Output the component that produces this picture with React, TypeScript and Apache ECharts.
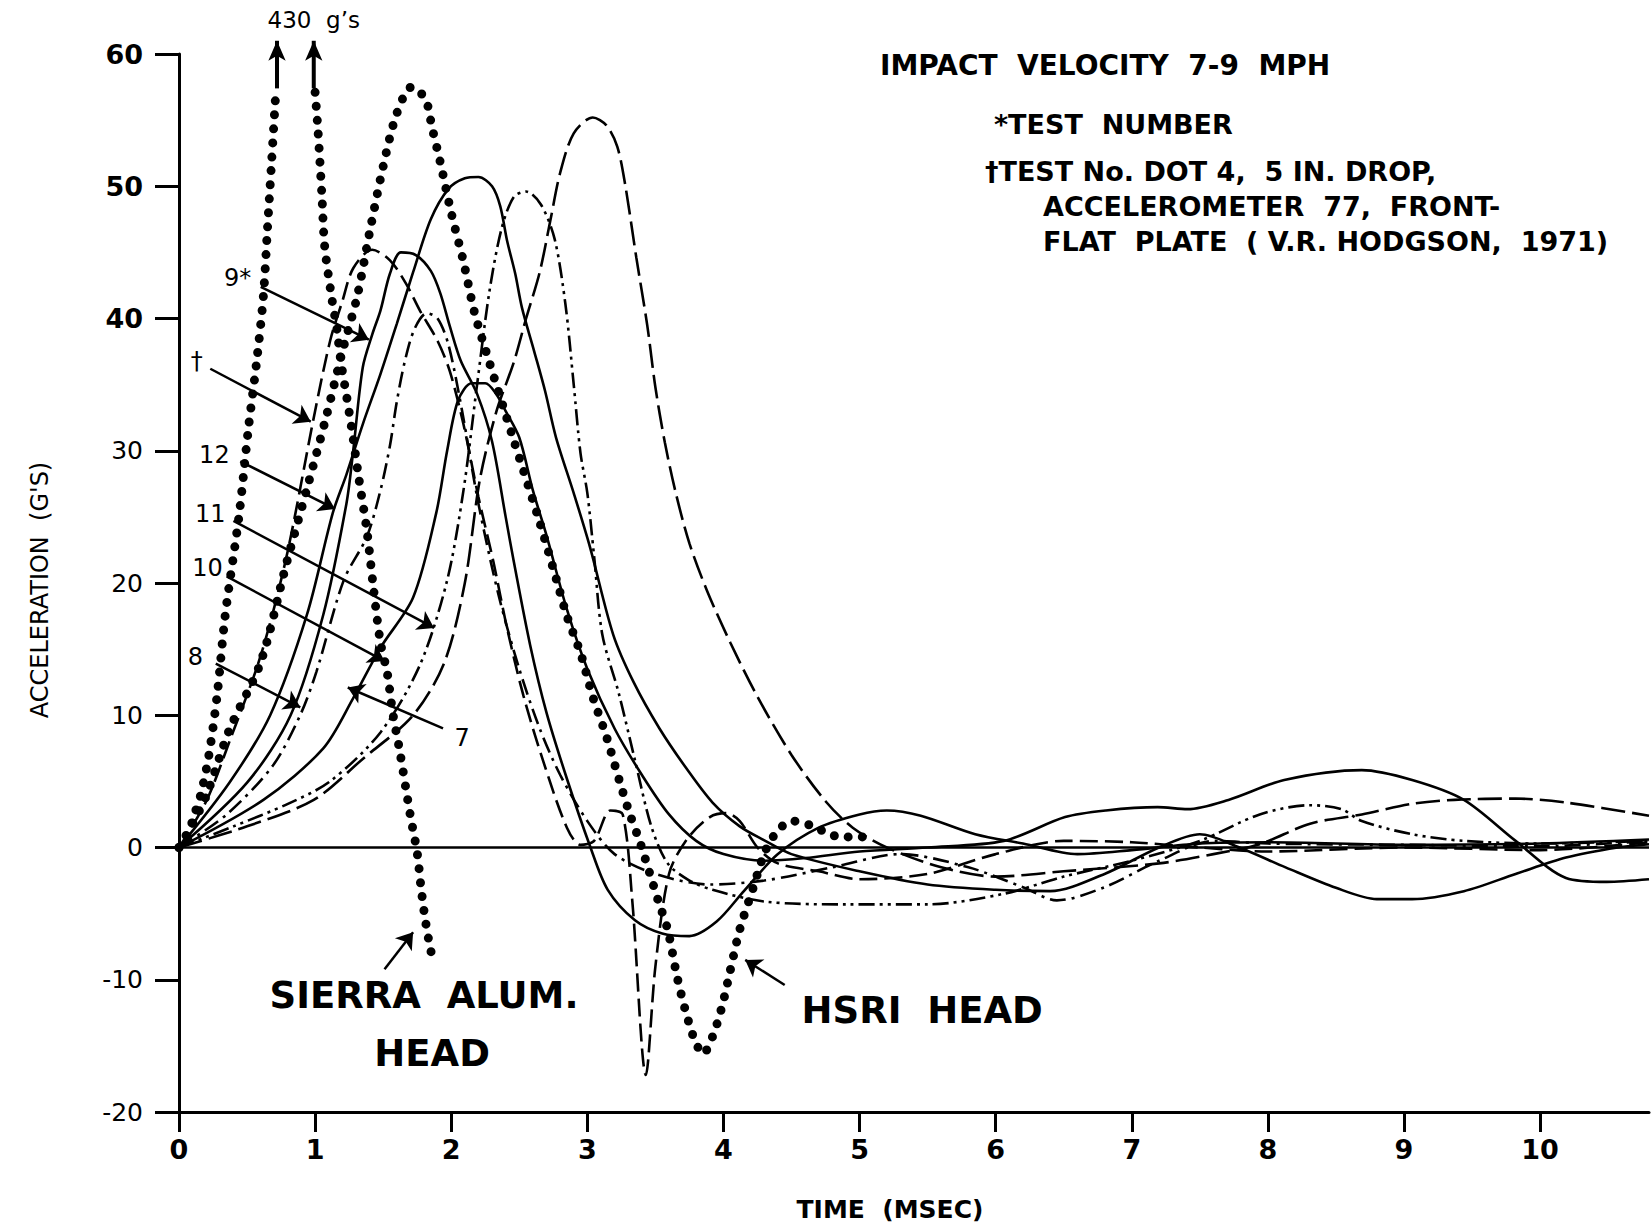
import React, { useEffect, useRef } from "react";
import * as echarts from "echarts";

const FONT = "'DejaVu Sans', 'Liberation Sans', Arial, sans-serif";

// ---------- axis ticks ----------
const xTickValues = [0, 1, 2, 3, 4, 5, 6, 7, 8, 9, 10];
const yBoldLabels = [40, 50, 60];

// ---------- series data: [time (ms), acceleration (g)] ----------
const testDagger = [
  [0, 0], [0.2, 3.5], [0.37, 8], [0.6, 14.5], [0.79, 22], [0.99, 32.5], [1.11, 38.3], [1.2, 41.3],
  [1.28, 43.8], [1.42, 45.2], [1.55, 44.4], [1.67, 42.6], [1.77, 40.6], [1.9, 38.3], [1.99, 36],
  [2.09, 32], [2.2, 26.5], [2.31, 21.6], [2.41, 16.6], [2.53, 11.5], [2.68, 6.4], [2.85, 1.5],
  [2.95, 0.2], [3.05, 0.5], [3.17, 2.8], [3.26, 2.5], [3.33, -4], [3.43, -17.2], [3.5, -9],
  [3.6, -2], [3.73, 0.6], [3.9, 2.3], [4.02, 2.6], [4.12, 2], [4.25, 0], [4.4, -1.2], [4.7, -1.8],
  [5.0, -2.4], [5.5, -2], [6.0, -0.5], [6.5, 0.5], [7.0, 0.4], [7.5, 0], [8.0, -0.3], [9.0, 0],
  [10.0, -0.2], [10.8, 0.4],
];

const test9 = [
  [0, 0], [0.5, 4.9], [0.82, 10], [1.06, 17.6], [1.23, 26], [1.28, 30], [1.35, 36.3], [1.42, 38.8],
  [1.48, 40.6], [1.55, 43.4], [1.63, 45], [1.74, 44.8], [1.85, 43.6], [1.92, 41.9], [1.99, 39.4],
  [2.07, 36.8], [2.19, 34.3], [2.3, 30.7], [2.4, 25], [2.46, 21.6], [2.58, 15.3], [2.7, 10.2],
  [2.85, 5.2], [3.02, 0.1], [3.15, -3.2], [3.35, -5.5], [3.55, -6.5], [3.75, -6.7], [3.95, -5.6],
  [4.15, -3.3], [4.4, -0.5], [4.7, 1.5], [5.0, 2.5], [5.2, 2.8], [5.45, 2.4], [5.85, 1.0],
  [6.2, 0.3], [6.6, -0.5], [7.0, -0.2], [7.5, 0.3], [8.0, 0.4], [9.0, 0.2], [10.0, 0.3], [10.8, 0.6],
];

const test12 = [
  [0, 0], [0.37, 4.9], [0.67, 10], [0.94, 17.6], [1.13, 25.3], [1.23, 28.2], [1.35, 32], [1.48, 35.8],
  [1.6, 39.6], [1.72, 43.5], [1.85, 47.5], [1.98, 49.8], [2.1, 50.6], [2.2, 50.7], [2.3, 50],
  [2.36, 48.5], [2.41, 45.9], [2.47, 43.4], [2.52, 40.8], [2.61, 37.5], [2.69, 34.5], [2.77, 31],
  [2.9, 26.8], [3.02, 22.7], [3.19, 16.1], [3.34, 12.5], [3.53, 9], [3.73, 5.95], [3.92, 3.4],
  [4.12, 1.6], [4.29, 0.6], [4.5, -0.5], [5.0, -1.8], [5.5, -2.8], [6.0, -3.2], [6.4, -3.3],
  [6.8, -2], [7.2, 0], [7.5, 1.0], [7.79, 0], [8.13, -1.5], [8.5, -3.05], [8.8, -3.9], [9.06, -3.9],
  [9.44, -3.3], [9.82, -2], [10.19, -0.76], [10.57, 0], [10.8, 0.25],
];

const test11 = [
  [0, 0], [0.4, 1.6], [0.8, 3.3], [1.11, 5], [1.48, 8.7], [1.77, 13.8], [1.97, 20.2], [2.09, 27],
  [2.19, 35], [2.28, 42], [2.37, 46.8], [2.46, 49.2], [2.55, 49.6], [2.66, 48.6], [2.76, 46],
  [2.84, 41], [2.9, 35], [2.95, 29.8], [3.0, 26.8], [3.05, 22], [3.11, 16.1], [3.23, 11.7],
  [3.35, 6.6], [3.47, 1.6], [3.59, -1.2], [3.75, -2.5], [3.92, -3.2], [4.31, -4.1], [4.9, -4.3],
  [5.5, -4.3], [6.06, -3.5], [6.5, -2.2], [7.0, -1], [7.5, 0.5], [7.94, 2.5], [8.31, 3.2],
  [8.54, 2.9], [8.69, 2], [9.06, 1], [9.44, 0.5], [10.0, 0.3], [10.8, 0.5],
];

const test10 = [
  [0, 0], [0.62, 3.6], [1.06, 7.5], [1.28, 11.3], [1.48, 15.1], [1.72, 18.9], [1.89, 25.3],
  [1.97, 30], [2.05, 33.8], [2.15, 35.1], [2.25, 35.1], [2.33, 34.3], [2.4, 33], [2.5, 31],
  [2.6, 27], [2.7, 23.6], [2.85, 18], [3.0, 13.5], [3.2, 9], [3.4, 5.5], [3.6, 2.5], [3.8, 0.5],
  [4.0, -0.5], [4.3, -1], [4.6, -0.8], [5.0, -0.3], [5.5, 0], [6.06, 0.5], [6.51, 2.3], [6.81, 2.8],
  [7.19, 3.05], [7.41, 2.9], [7.71, 3.6], [8.12, 5.1], [8.69, 5.85], [9.06, 5.1], [9.44, 3.6],
  [9.82, 0.5], [10.19, -2.3], [10.49, -2.6], [10.8, -2.4],
];

const test8 = [
  [0, 0], [0.35, 2.5], [0.69, 6.2], [0.89, 10], [1.01, 13.3], [1.21, 20.2], [1.38, 23.5],
  [1.48, 27], [1.55, 30.4], [1.6, 33.7], [1.66, 36.8], [1.73, 39.2], [1.82, 40.4], [1.9, 40],
  [1.98, 38], [2.08, 33], [2.2, 26], [2.35, 19], [2.5, 13.5], [2.65, 9], [2.8, 5.5], [3.0, 2],
  [3.2, -0.5], [3.5, -2], [3.9, -2.8], [4.3, -2.5], [4.8, -1.5], [5.3, -0.5], [5.8, -1.5],
  [6.2, -3], [6.45, -4], [6.8, -3], [7.2, -1], [7.6, 0.5], [8.0, 0.3], [9.0, 0.2], [10.0, 0.1], [10.8, 0.5],
];

const test7 = [
  [0, 0], [0.5, 1.6], [0.99, 3.6], [1.35, 6.7], [1.72, 10], [1.95, 14], [2.1, 20], [2.21, 27.8],
  [2.33, 32.9], [2.46, 36.7], [2.55, 40], [2.65, 43.5], [2.73, 47.5], [2.8, 51], [2.9, 54],
  [3.04, 55.2], [3.14, 54.6], [3.22, 53], [3.28, 50], [3.36, 44.6], [3.44, 39.5], [3.5, 34.8],
  [3.57, 30.6], [3.65, 26.8], [3.75, 23], [3.88, 19.4], [4.05, 15.5], [4.25, 11.4], [4.5, 7],
  [4.75, 3.5], [4.95, 1.5], [5.2, 0], [5.6, -1.5], [6.0, -2.2], [6.5, -1.8], [7.2, -1.2],
  [7.6, -0.5], [7.94, 0.25], [8.31, 1.8], [8.69, 2.5], [9.06, 3.3], [9.37, 3.6], [9.82, 3.7],
  [10.19, 3.4], [10.8, 2.4],
];

const hsriHead = [
  [0, 0], [0.1, 1.8], [0.2, 3.9], [0.37, 8.9], [0.6, 14], [0.79, 21.5], [0.95, 27.5], [1.08, 32.5],
  [1.2, 37.5], [1.31, 41.7], [1.4, 46.5], [1.5, 51.5], [1.6, 55.5], [1.71, 57.5], [1.81, 56.6],
  [1.86, 54.4], [1.92, 51.8], [2.0, 48], [2.09, 44.3], [2.17, 40.5], [2.28, 36.7], [2.45, 31.1],
  [2.65, 24.6], [2.78, 20], [2.85, 17.5], [2.95, 14.7], [3.04, 11.4], [3.14, 8.4], [3.24, 4.9],
  [3.31, 2.6], [3.39, 0.3], [3.46, -2], [3.52, -4], [3.59, -6.2], [3.66, -9.8], [3.72, -12.3],
  [3.79, -14.6], [3.85, -15.6], [3.92, -14.3], [3.99, -12], [4.05, -9.3], [4.12, -6.2],
  [4.22, -3], [4.31, -0.2], [4.41, 1.4], [4.51, 2], [4.66, 1.6], [4.76, 1.1], [4.86, 0.8], [5.03, 0.8],
];

const sierraRise = [
  [0, 0], [0.06, 0.8], [0.11, 2.4], [0.16, 4], [0.22, 7], [0.28, 11.5], [0.34, 17.6], [0.44, 25],
  [0.51, 31.7], [0.57, 36.7], [0.62, 41.7], [0.65, 46.8], [0.68, 51.8], [0.71, 56.9],
];

const sierraFall = [
  [1.0, 57.1], [1.02, 54.4], [1.05, 49.3], [1.07, 45.5], [1.12, 41.7], [1.16, 39.2], [1.19, 36.7],
  [1.23, 34.2], [1.27, 31.6], [1.32, 28], [1.38, 24], [1.43, 19.5], [1.48, 15.5], [1.53, 13.2],
  [1.57, 10.2], [1.62, 7.4], [1.7, 2.4], [1.75, -0.4], [1.78, -3.2], [1.81, -5.5], [1.85, -7.8], [1.88, -8.8],
];

// "430 g's" off-scale arrows: [time, from g, to g]
const offScaleArrows = [
  [0.72, 57.4, 61.0],
  [0.99, 57.4, 61.0],
];

// curve labels: [text, x, y]
const curveLabels: [string, number, number][] = [
  ["9*", 0.43, 43.1],
  ["\u2020", 0.13, 36.8],
  ["12", 0.26, 29.7],
  ["11", 0.23, 25.2],
  ["10", 0.21, 21.1],
  ["8", 0.12, 14.4],
  ["7", 2.08, 8.3],
];

// label arrows: [x1, y1, x2 (tip), y2 (tip)]
const labelArrows = [
  [0.6, 42.4, 1.395, 38.4],
  [0.23, 36.2, 0.968, 32.2],
  [0.45, 29.2, 1.146, 25.6],
  [0.4, 24.7, 1.874, 16.6],
  [0.35, 20.5, 1.51, 14.1],
  [0.27, 13.9, 0.891, 10.6],
  [1.94, 9.0, 1.24, 12.1],
  [1.51, -9.2, 1.72, -6.4],
  [4.45, -10.4, 4.16, -8.5],
];

const headLabels: [string, number, number][] = [
  ["SIERRA  ALUM.", 1.8, -11.2],
  ["HEAD", 1.86, -15.6],
  ["HSRI  HEAD", 5.46, -12.3],
];

const offScaleLabel: [string, number, number][] = [["430  g\u2019s", 0.99, 62.6]];

const LONG_DASH = [18, 7];
const LONGER_DASH = [24, 7];
const DASH_DOT = [16, 6, 3, 6];
const DASH_DOT_DOT = [16, 5, 3, 5, 3, 5];

function curve(name: string, data: number[][], type: any, width = 2.6) {
  return {
    name,
    type: "line",
    data,
    smooth: 0.3,
    showSymbol: false,
    symbol: "none",
    silent: true,
    z: 3,
    lineStyle: { color: "#000", width, type, cap: "butt" },
  };
}

function dotted(name: string, data: number[][]) {
  return {
    name,
    type: "line",
    data,
    smooth: 0.3,
    showSymbol: false,
    symbol: "none",
    silent: true,
    z: 4,
    lineStyle: { color: "#000", width: 9, type: [0, 14], cap: "round" },
  };
}

function textSeries(name: string, items: [string, number, number][], fontSize: number, fontWeight: string, extra: any = {}) {
  return {
    name,
    type: "scatter",
    clip: false,
    silent: true,
    symbolSize: 0,
    z: 6,
    itemStyle: { opacity: 1, color: "#000" },
    data: items.map((l) => ({ name: l[0], value: [l[1], l[2]] })),
    label: {
      show: true,
      position: "inside",
      formatter: "{b}",
      color: "#000",
      opacity: 1,
      fontSize,
      fontWeight,
      fontFamily: FONT,
    },
    ...extra,
  };
}

export default function App() {
  const ref = useRef<HTMLDivElement>(null);

  useEffect(() => {
    if (!ref.current) return;
    const chart = echarts.init(ref.current, undefined, { renderer: "svg" });

    const option: any = {
      animation: false,
      backgroundColor: "#fff",
      grid: { left: 179, right: 3, top: 54, bottom: 111, containLabel: false },
      xAxis: {
        type: "value",
        min: 0,
        max: 10.8,
        interval: 1,
        axisLine: { show: true, onZero: false, lineStyle: { color: "#000", width: 3 } },
        axisTick: { show: true, length: 20, customValues: xTickValues, lineStyle: { color: "#000", width: 3 } },
        axisLabel: {
          color: "#000",
          fontSize: 27,
          fontWeight: "bold",
          fontFamily: FONT,
          margin: 24,
          customValues: xTickValues,
          formatter: (v: number) => (Number.isInteger(v) ? String(v) : ""),
        },
        splitLine: { show: false },
      },
      yAxis: {
        type: "value",
        min: -20,
        max: 60,
        interval: 10,
        axisLine: { show: true, onZero: false, lineStyle: { color: "#000", width: 3 } },
        axisTick: { show: true, length: 24, lineStyle: { color: "#000", width: 3 } },
        axisLabel: {
          color: "#000",
          margin: 36,
          fontFamily: FONT,
          formatter: (v: number) => (yBoldLabels.includes(v) ? `{b|${v}}` : `{n|${v}}`),
          rich: {
            b: { fontSize: 27, fontWeight: "bold", fontFamily: FONT, color: "#000" },
            n: { fontSize: 25, fontWeight: "normal", fontFamily: FONT, color: "#000" },
          },
        },
        splitLine: { show: false },
      },
      graphic: [
        { type: "text", x: 880, y: 65, style: { text: "IMPACT  VELOCITY  7-9  MPH", fontSize: 28, fontWeight: "bold", fontFamily: FONT, fill: "#000", verticalAlign: "middle" } },
        { type: "text", x: 994, y: 124, style: { text: "*TEST  NUMBER", fontSize: 27, fontWeight: "bold", fontFamily: FONT, fill: "#000", verticalAlign: "middle" } },
        { type: "text", x: 985, y: 171, style: { text: "\u2020TEST No. DOT 4,  5 IN. DROP,", fontSize: 27, fontWeight: "bold", fontFamily: FONT, fill: "#000", verticalAlign: "middle" } },
        { type: "text", x: 1043, y: 206, style: { text: "ACCELEROMETER  77,  FRONT-", fontSize: 27, fontWeight: "bold", fontFamily: FONT, fill: "#000", verticalAlign: "middle" } },
        { type: "text", x: 1043, y: 241, style: { text: "FLAT  PLATE  ( V.R. HODGSON,  1971)", fontSize: 27, fontWeight: "bold", fontFamily: FONT, fill: "#000", verticalAlign: "middle" } },
        { type: "text", x: 890, y: 1209, style: { text: "TIME  (MSEC)", fontSize: 25, fontWeight: "bold", fontFamily: FONT, fill: "#000", align: "center", verticalAlign: "middle" } },
        { type: "text", x: 40, y: 590, rotation: Math.PI / 2, style: { text: "ACCELERATION  (G'S)", fontSize: 24, fontWeight: "normal", fontFamily: FONT, fill: "#000", align: "center", verticalAlign: "middle" } },
      ],
      series: [
        curve("\u2020", testDagger, LONG_DASH),
        curve("9*", test9, "solid"),
        curve("12", test12, "solid"),
        curve("11", test11, DASH_DOT_DOT),
        curve("10", test10, "solid"),
        curve("8", test8, DASH_DOT),
        curve("7", test7, LONGER_DASH),
        {
          ...dotted("HSRI HEAD", hsriHead),
          markLine: {
            silent: true,
            symbol: "none",
            label: { show: false },
            lineStyle: { color: "#000", width: 2.5, type: "solid" },
            data: [{ yAxis: 0 }],
          },
        },
        dotted("SIERRA ALUM. HEAD", sierraRise),
        dotted("SIERRA ALUM. HEAD ", sierraFall),
        ...offScaleArrows.map((a, i) => ({
          name: "offscale" + i,
          type: "line",
          clip: false,
          silent: true,
          showSymbol: true,
          symbol: "none",
          lineStyle: { color: "#000", width: 4 },
          itemStyle: { color: "#000" },
          data: [
            { value: [a[0], a[1]], symbol: "none" },
            { value: [a[0], a[2]], symbol: "arrow", symbolSize: [13, 20] },
          ],
        })),
        textSeries("curveLabels", curveLabels, 24, "normal", {
          markLine: {
            silent: true,
            symbol: ["none", "arrow"],
            symbolSize: 16,
            label: { show: false },
            lineStyle: { color: "#000", width: 2.5, type: "solid", opacity: 1 },
            data: labelArrows.map((a) => [{ coord: [a[0], a[1]] }, { coord: [a[2], a[3]] }]),
          },
        }),
        textSeries("headLabels", headLabels, 37, "bold"),
        textSeries("offScaleLabel", offScaleLabel, 23, "normal"),
      ],
    };

    chart.setOption(option);
    return () => chart.dispose();
  }, []);

  return (
    <div
      ref={ref}
      style={{ position: "absolute", left: 0, top: 0, width: 1652, height: 1223, background: "#fff" }}
    />
  );
}
